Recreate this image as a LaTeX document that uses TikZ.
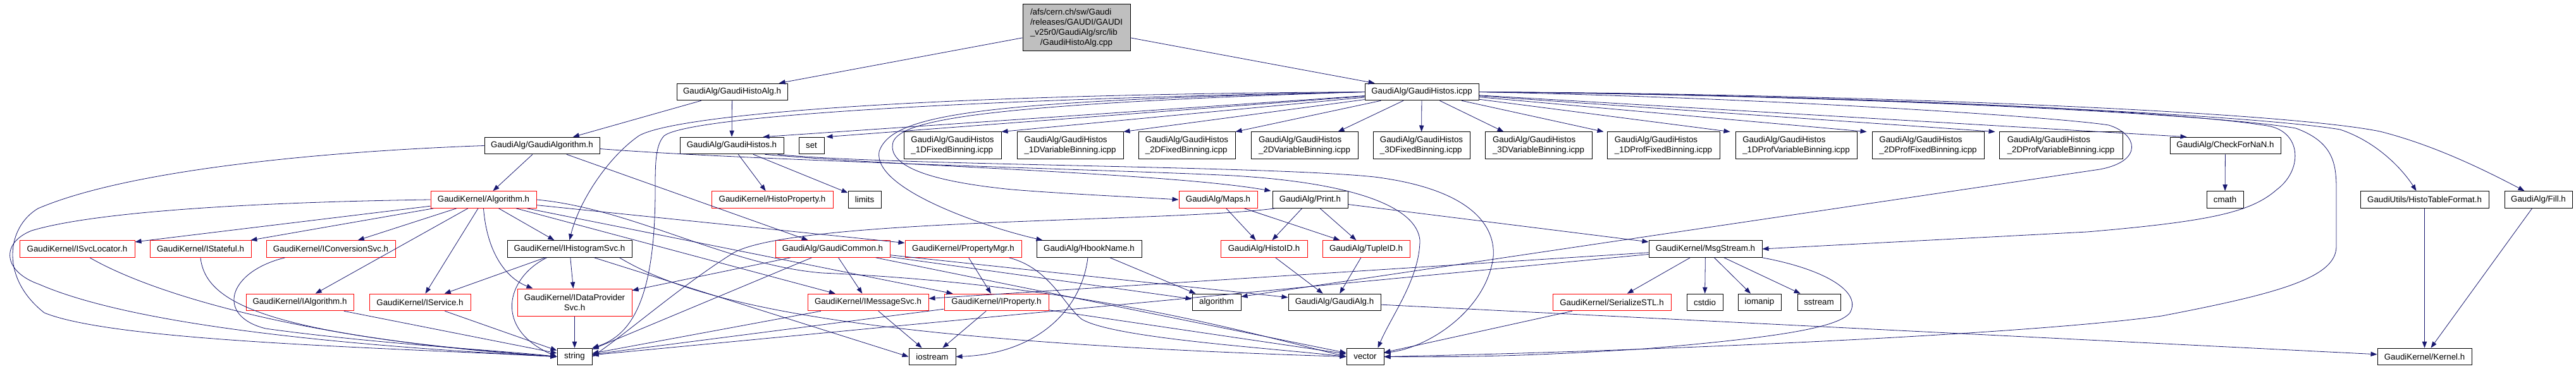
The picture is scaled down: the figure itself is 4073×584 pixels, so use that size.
\documentclass[tikz,border=0pt]{standalone}
\usepackage{fontspec}
\setmainfont{Liberation Sans}
\usetikzlibrary{arrows.meta,calc}
\definecolor{eblue}{HTML}{191970}
\definecolor{topgray}{HTML}{BFBFBF}
\begin{document}
\begin{tikzpicture}[x=0.75pt,y=-0.75pt,
  nd/.style={draw=black, line width=0.75pt, rectangle, inner sep=1pt, font=\fontsize{10}{12}\selectfont, minimum height=20pt},
  rd/.style={nd, draw=red},
  two/.style={minimum height=32.25pt, align=left},
  e/.style={draw=eblue, line width=0.6pt, -{Triangle[length=7.5pt,width=5.5pt]}, line join=round}]
\fill[white] (0,0) rectangle (4073,584);
\useasboundingbox (0,0) rectangle (4073,584);
% ---------- nodes
\node[nd, fill=topgray, minimum width=127.5pt, minimum height=55.5pt] (top) at (1702,44) {\begin{tabular}{@{}l@{}}/afs/cern.ch/sw/Gaudi\\/releases/GAUDI/GAUDI\\\_v25r0/GaudiAlg/src/lib\\\multicolumn{1}{@{}c@{}}{/GaudiHistoAlg.cpp}\end{tabular}};
\node[nd, minimum width=131.25pt] (histoalgh) at (1157.5,145.5) {GaudiAlg/GaudiHistoAlg.h};
\node[nd, minimum width=135pt] (icpp) at (2248,145.5) {GaudiAlg/GaudiHistos.icpp};
\node[nd, minimum width=136.5pt] (gaudialgorithm) at (857,230.5) {GaudiAlg/GaudiAlgorithm.h};
\node[nd, minimum width=123pt] (gaudihistos) at (1157,230.5) {GaudiAlg/GaudiHistos.h};
\node[nd, minimum width=30pt] (set) at (1283,230.5) {set};
\node[nd, two, minimum width=115.5pt] (b1Df) at (1506,230.5) {GaudiAlg/GaudiHistos\\\_1DFixedBinning.icpp};
\node[nd, two, minimum width=126pt] (b1Dv) at (1692,230.5) {GaudiAlg/GaudiHistos\\\_1DVariableBinning.icpp};
\node[nd, two, minimum width=114.75pt] (b2Df) at (1876.5,230.5) {GaudiAlg/GaudiHistos\\\_2DFixedBinning.icpp};
\node[nd, two, minimum width=126.75pt] (b2Dv) at (2062.5,230.5) {GaudiAlg/GaudiHistos\\\_2DVariableBinning.icpp};
\node[nd, two, minimum width=114.75pt] (b3Df) at (2247.5,230.5) {GaudiAlg/GaudiHistos\\\_3DFixedBinning.icpp};
\node[nd, two, minimum width=126.75pt] (b3Dv) at (2432.5,230.5) {GaudiAlg/GaudiHistos\\\_3DVariableBinning.icpp};
\node[nd, two, minimum width=133.5pt] (b1Pf) at (2630,230.5) {GaudiAlg/GaudiHistos\\\_1DProfFixedBinning.icpp};
\node[nd, two, minimum width=144pt] (b1Pv) at (2840,230.5) {GaudiAlg/GaudiHistos\\\_1DProfVariableBinning.icpp};
\node[nd, two, minimum width=132.75pt] (b2Pf) at (3048.5,230.5) {GaudiAlg/GaudiHistos\\\_2DProfFixedBinning.icpp};
\node[nd, two, minimum width=146.25pt] (b2Pv) at (3258.5,230.5) {GaudiAlg/GaudiHistos\\\_2DProfVariableBinning.icpp};
\node[nd, minimum width=131.25pt] (checknan) at (3518.5,230.5) {GaudiAlg/CheckForNaN.h};
% row 3
\node[rd, minimum width=125.25pt] (algorithmh) at (764.5,316) {GaudiKernel/Algorithm.h};
\node[rd, minimum width=144pt] (histoprop) at (1221,316) {GaudiKernel/HistoProperty.h};
\node[nd, minimum width=39pt] (limits) at (1367,316) {limits};
\node[rd, minimum width=93pt] (maps) at (1926,316) {GaudiAlg/Maps.h};
\node[nd, minimum width=89.25pt] (print) at (2071.5,316) {GaudiAlg/Print.h};
\node[nd, minimum width=43.5pt] (cmath) at (3518,316) {cmath};
\node[nd, minimum width=152.25pt] (histotable) at (3833.5,316) {GaudiUtils/HistoTableFormat.h};
\node[nd, minimum width=80.25pt] (fill) at (4013.5,316) {GaudiAlg/Fill.h};
% row 4
\node[rd, minimum width=136.5pt] (isvcloc) at (122,394) {GaudiKernel/ISvcLocator.h};
\node[rd, minimum width=120pt] (istateful) at (317,394) {GaudiKernel/IStateful.h};
\node[rd, minimum width=153pt] (iconvsvc) at (523,394) {GaudiKernel/IConversionSvc.h};
\node[nd, minimum width=147.75pt] (ihistsvc) at (900.5,394) {GaudiKernel/IHistogramSvc.h};
\node[rd, minimum width=135.75pt] (gaudicommon) at (1316.5,394) {GaudiAlg/GaudiCommon.h};
\node[rd, minimum width=138pt] (propmgr) at (1523,394) {GaudiKernel/PropertyMgr.h};
\node[nd, minimum width=124.5pt] (hbook) at (1722,394) {GaudiAlg/HbookName.h};
\node[rd, minimum width=102.75pt] (histoid) at (1998.5,394) {GaudiAlg/HistoID.h};
\node[rd, minimum width=103.5pt] (tupleid) at (2160,394) {GaudiAlg/TupleID.h};
\node[nd, minimum width=134.25pt] (msgstream) at (2696.5,394) {GaudiKernel/MsgStream.h};
% row 5
\node[rd, minimum width=127.5pt] (ialg) at (474,478.5) {GaudiKernel/IAlgorithm.h};
\node[rd, minimum width=120pt] (iservice) at (664,478.5) {GaudiKernel/IService.h};
\node[rd, minimum width=135.75pt, minimum height=32.25pt, align=center] (idataprov) at (908.5,478.5) {GaudiKernel/IDataProvider\\Svc.h};
\node[rd, minimum width=143.25pt] (imsgsvc) at (1372.5,478.5) {GaudiKernel/IMessageSvc.h};
\node[rd, minimum width=123.75pt] (iproperty) at (1575.5,478.5) {GaudiKernel/IProperty.h};
\node[nd, minimum width=57.75pt] (algorithm) at (1923.5,478.5) {algorithm};
\node[nd, minimum width=109.5pt] (gaudialg) at (2110,478.5) {GaudiAlg/GaudiAlg.h};
\node[rd, minimum width=140.25pt] (serialize) at (2548.5,478.5) {GaudiKernel/SerializeSTL.h};
\node[nd, minimum width=42.75pt] (cstdio) at (2695.5,478.5) {cstdio};
\node[nd, minimum width=51pt] (iomanip) at (2782,478.5) {iomanip};
\node[nd, minimum width=51pt] (sstream) at (2876,478.5) {sstream};
% row 6
\node[nd, minimum width=41.25pt] (string) at (908.5,564.5) {string};
\node[nd, minimum width=55.5pt] (iostream) at (1474,564.5) {iostream};
\node[nd, minimum width=44.25pt] (vector) at (2158.5,564.5) {vector};
\node[nd, minimum width=111.75pt] (kernel) at (3833.5,564.5) {GaudiKernel/Kernel.h};
% ---------- edges
\draw[e] (top) -- (histoalgh);
\draw[e] (top) -- (icpp);
\draw[e] (histoalgh) -- (gaudialgorithm);
\draw[e] (histoalgh) -- (gaudihistos);
% GaudiHistos.icpp
\draw[e] (icpp) -- ($(gaudihistos.north east)+(-33,0)$);
\draw[e] (icpp) -- ($(set.north east)+(3,0)$);
\draw[e] (icpp) -- (b1Df.north east);
\draw[e] (icpp) -- (b1Dv.north east);
\draw[e] (icpp) -- (b2Df.north east);
\draw[e] (icpp) -- ($(b2Dv.north east)+(-32,0)$);
\draw[e] (icpp) -- (b3Df);
\draw[e] (icpp) -- ($(b3Dv.north west)+(30,0)$);
\draw[e] (icpp) -- ($(b1Pf.north west)+(-5,0)$);
\draw[e] (icpp) -- ($(b1Pv.north west)+(-8,0)$);
\draw[e] (icpp) -- ($(b2Pf.north west)+(-8,0)$);
\draw[e] (icpp) -- ($(b2Pv.north west)+(-6,0)$);
\draw[e] (icpp) -- ($(checknan.north west)+(27,0)$);
\draw[e] (icpp.west) .. controls (1400,150) and (1060,185) .. (1010,215) .. controls (960,250) and (915,320) .. (ihistsvc.north);
\draw[e] (icpp.west) .. controls (1400,160) and (1080,190) .. (1050,215) .. controls (1036,230) and (1036,260) .. (1036,300) .. controls (1036,470) and (1000,530) .. (string.north east);
\draw[e] (icpp.west) .. controls (1550,160) and (1410,180) .. (1390,240) .. controls (1380,300) and (1560,360) .. ($(hbook.north west)+(10,0)$);
\draw[e] (icpp.west) .. controls (1550,165) and (1425,190) .. (1412,225) .. controls (1400,270) and (1500,290) .. (1600,300) .. controls (1700,308) and (1800,312) .. (maps.west);
\draw[e] (icpp.east) .. controls (2900,150) and (3450,175) .. (3590,200) .. controls (3640,212) and (3640,270) .. (3600,300) .. controls (3560,335) and (3500,350) .. (3300,367) -- (msgstream.east);
\draw[e] (icpp.east) .. controls (2900,150) and (3500,180) .. (3630,203) .. controls (3690,225) and (3694,260) .. (3694,300) -- (3694,390) .. controls (3694,440) and (3600,465) .. (3418,500) .. controls (3200,530) and (2600,556) .. (vector.east);
\draw[e] (icpp.east) .. controls (2900,150) and (3550,180) .. (3700,205) .. controls (3760,225) and (3800,270) .. ($(histotable.north)+(-13,0)$);
\draw[e] (icpp.east) .. controls (2900,148) and (3600,175) .. (3763,208) .. controls (3850,230) and (3930,270) .. ($(fill.north west)+(32,0)$);
\draw[e] (icpp.east) .. controls (2800,155) and (3250,185) .. (3334,198) .. controls (3380,212) and (3390,255) .. (3320,268) -- ($(algorithm.east)+(0,-9)$);
% GaudiAlgorithm.h
\draw[e] (gaudialgorithm) -- (algorithmh);
\draw[e] (gaudialgorithm) -- (gaudicommon);
\draw[e] (gaudialgorithm.west) .. controls (500,240) and (200,270) .. (60,330) .. controls (10,360) and (0,440) .. (70,495) .. controls (180,540) and (600,550) .. (string.west);
\draw[e] ($(gaudialgorithm.east)+(0,5)$) .. controls (1200,255) and (1800,270) .. (1950,278) .. controls (2150,290) and (2240,330) .. (2245,380) .. controls (2245,440) and (2200,500) .. ($(vector.north)+(20,0)$);
% GaudiHistos.h
\draw[e] (gaudihistos) -- (histoprop);
\draw[e] (gaudihistos) -- (limits);
\draw[e] ($(gaudihistos.south east)+(-30,0)$) .. controls (1400,262) and (1850,274) .. ($(print.north west)+(-2,0)$);
\draw[e] ($(gaudihistos.south east)+(-10,0)$) .. controls (1400,262) and (2000,262) .. (2173,280) .. controls (2330,300) and (2365,360) .. (2361,407) .. controls (2350,490) and (2260,550) .. ($(vector.east)+(0,-6)$);
% Algorithm.h
\draw[e] (algorithmh) -- (isvcloc);
\draw[e] (algorithmh) -- (istateful);
\draw[e] (algorithmh) -- (iconvsvc);
\draw[e] (algorithmh) -- (ialg);
\draw[e] (algorithmh) -- (iservice);
\draw[e] (algorithmh) -- (ihistsvc);
\draw[e] (algorithmh.south) .. controls (770,400) and (800,440) .. ($(idataprov.north west)+(25,0)$);
\draw[e] (algorithmh) -- (propmgr);
\draw[e] (algorithmh) -- (imsgsvc);
\draw[e] (algorithmh) -- (iproperty);
\draw[e] (algorithmh.east) .. controls (1000,330) and (1150,420) .. (1300,432) .. controls (1700,450) and (1950,520) .. (vector.west);
\draw[e] (algorithmh.west) .. controls (400,320) and (150,335) .. (50,365) .. controls (0,385) and (5,430) .. (62,450) .. controls (200,510) and (500,545) .. (string.west);
% small headers
\draw[e] (checknan) -- (cmath);
\draw[e] (histotable) -- (kernel);
\draw[e] (fill) -- (kernel);
\draw[e] (maps) -- (histoid);
\draw[e] (maps) -- (tupleid);
\draw[e] (print) -- (histoid);
\draw[e] (print) -- (tupleid);
\draw[e] (print) -- (msgstream);
\draw[e] ($(print.south west)+(4,0)$) .. controls (1850,352) and (1260,345) .. (1160,400) .. controls (1080,450) and (1000,520) .. (string.east);
\draw[e] (histoid) -- (gaudialg);
\draw[e] (tupleid) -- (gaudialg);
\draw[e] (gaudialg) -- (kernel);
% GaudiCommon.h
\draw[e] (gaudicommon) -- (imsgsvc);
\draw[e] (gaudicommon) -- (idataprov);
\draw[e] (gaudicommon) -- (string);
\draw[e] (gaudicommon) -- (algorithm);
\draw[e] (gaudicommon) -- (vector);
\draw[e] (gaudicommon) -- (gaudialg);
% PropertyMgr.h, HbookName.h
\draw[e] (propmgr) -- (iproperty);
\draw[e] ($(propmgr.south east)+(-20,0)$) .. controls (1660,425) and (1680,480) .. (1710,505) .. controls (1760,535) and (2000,550) .. (vector.west);
\draw[e] (hbook) -- (algorithm);
\draw[e] ($(hbook.south)+(-2,0)$) .. controls (1710,490) and (1640,560) .. (iostream.east);
% MsgStream.h
\draw[e] (msgstream) -- (serialize);
\draw[e] (msgstream) -- (cstdio);
\draw[e] (msgstream) -- (iomanip);
\draw[e] (msgstream) -- (sstream);
\draw[e] (msgstream) -- (imsgsvc);
\draw[e] (msgstream) -- (string);
\draw[e] (msgstream.south east) .. controls (2880,425) and (2945,460) .. (2925,495) .. controls (2905,520) and (2800,535) .. (2600,552) .. controls (2400,565) and (2300,565) .. (vector.east);
\draw[e] (serialize) -- (vector);
% interfaces
\draw[e] (ihistsvc) -- (iservice);
\draw[e] (ihistsvc) -- (idataprov);
\draw[e] ($(ihistsvc.south)+(-36,0)$) .. controls (800,440) and (780,520) .. (string.west);
\draw[e] ($(ihistsvc.south east)+(-60,0)$) -- (iostream.west);
\draw[e] ($(ihistsvc.south east)+(-20,0)$) .. controls (1100,480) and (1350,540) .. (vector.west);
\draw[e] (idataprov) -- (string);
\draw[e] (imsgsvc) -- (iostream);
\draw[e] (imsgsvc) -- (string);
\draw[e] (iproperty) -- (iostream);
\draw[e] (iproperty) -- (string);
\draw[e] (iproperty) -- (vector);
\draw[e] ($(isvcloc.south)+(20,0)$) .. controls (250,470) and (500,540) .. (string.west);
\draw[e] (istateful.south) .. controls (325,480) and (420,530) .. (string.west);
\draw[e] ($(iconvsvc.south west)+(30,0)$) .. controls (360,430) and (340,500) .. (420,520) .. controls (600,545) and (800,555) .. (string.west);
\draw[e] (ialg) -- (string);
\draw[e] (iservice) -- (string);
\end{tikzpicture}
\end{document}
